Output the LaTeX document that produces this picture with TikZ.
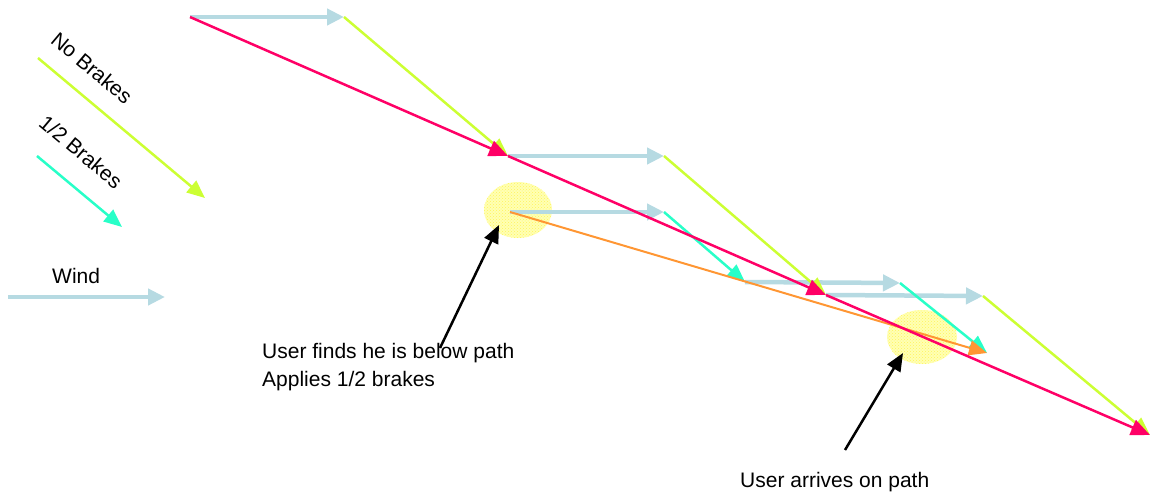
\documentclass[tikz,border=0pt]{standalone}
\usepackage{fontspec}
\setmainfont{Liberation Sans}
\usetikzlibrary{arrows.meta,patterns}
\definecolor{windc}{RGB}{182,218,226}
\definecolor{nobrk}{RGB}{204,255,51}
\definecolor{halfbrk}{RGB}{40,255,200}
\definecolor{pathc}{RGB}{255,0,102}
\definecolor{actual}{RGB}{255,150,51}
\definecolor{spot}{RGB}{255,255,180}
\definecolor{spotdot}{RGB}{255,245,90}
\tikzset{
  wind/.style={draw=windc, line width=4.5pt, -{Triangle[length=17pt,width=16pt]}},
  nob/.style={draw=nobrk, line width=2.5pt, -{Triangle[length=18pt,width=15pt]}},
  half/.style={draw=halfbrk, line width=2.5pt, -{Triangle[length=18pt,width=15pt]}},
  track/.style={draw=pathc, line width=2.5pt, -{Triangle[length=19pt,width=16pt]}},
  real/.style={draw=actual, line width=2pt, -{Triangle[length=18pt,width=15pt]}},
  pointer/.style={draw=black, line width=2.5pt, -{Triangle[length=18pt,width=15pt]}},
  lbl/.style={font=\fontsize{21}{25}\selectfont, inner sep=0pt},
}
\begin{document}
\begin{tikzpicture}[x=1pt,y=-1pt]
\useasboundingbox (0,0) rectangle (1156,497);

% flight points
\coordinate (s0) at (190,17);
\coordinate (w0) at (344,17);
\coordinate (s1) at (508,156);
\coordinate (w1) at (664,156);
\coordinate (s2) at (826,295);
\coordinate (w2) at (983,296);
\coordinate (s3) at (1150,435);
\coordinate (h0) at (510,212);
\coordinate (hw0) at (664,212);
\coordinate (h1) at (745,282);
\coordinate (hw1) at (900,283);
\coordinate (h2) at (987,353);

% highlighted spots
\fill[spot] (518,210) ellipse (34 and 28);
\fill[pattern=crosshatch dots, pattern color=spotdot] (518,210) ellipse (34 and 28);
\fill[spot] (922,337) ellipse (35 and 27);
\fill[pattern=crosshatch dots, pattern color=spotdot] (922,337) ellipse (35 and 27);

% legend
\coordinate (lw0) at (8,297);
\coordinate (lw1) at (165,297);
\coordinate (ln0) at (38,58);
\coordinate (ln1) at (205,198);
\coordinate (lh0) at (37,156);
\coordinate (lh1) at (122,227);
\draw[wind] (lw0) -- (lw1);
\draw[nob] (ln0) -- (ln1);
\draw[half] (lh0) -- (lh1);
\node[lbl, rotate=-40] (tno) at (92,68) {No Brakes};
\node[lbl, rotate=-40] (thalf) at (81,152) {1/2 Brakes};
\node[lbl, anchor=base west] (twind) at (52,283) {Wind};

% wind drift
\draw[wind] (s0) -- (w0);
\draw[wind] (s1) -- (w1);
\draw[wind] (h0) -- (hw0);
\draw[wind] (h1) -- (hw1);
\draw[wind] (s2) -- (w2);

% no-brake descent
\draw[nob] (w0) -- (s1);
\draw[nob] (w1) -- (s2);
\draw[nob] (w2) -- (s3);

% half-brake descent
\draw[half] (hw0) -- (h1);
\draw[half] (hw1) -- (h2);

% resulting track
\draw[real] (h0) -- (h2);
\draw[track] (s0) -- (s1);
\draw[track] (s1) -- (s2);
\draw[track] (s2) -- (s3);

% annotations
\node[lbl, anchor=base west] (n1) at (262,358) {User finds he is below path};
\node[lbl, anchor=base west] (n2) at (262,386) {Applies 1/2 brakes};
\node[lbl, anchor=base west] (n3) at (740,487) {User arrives on path};
\coordinate (p1) at (499,225);
\coordinate (p2) at (903,353);
\draw[pointer] (440,348) -- (p1);
\draw[pointer] (845,450) -- (p2);
\end{tikzpicture}
\end{document}
